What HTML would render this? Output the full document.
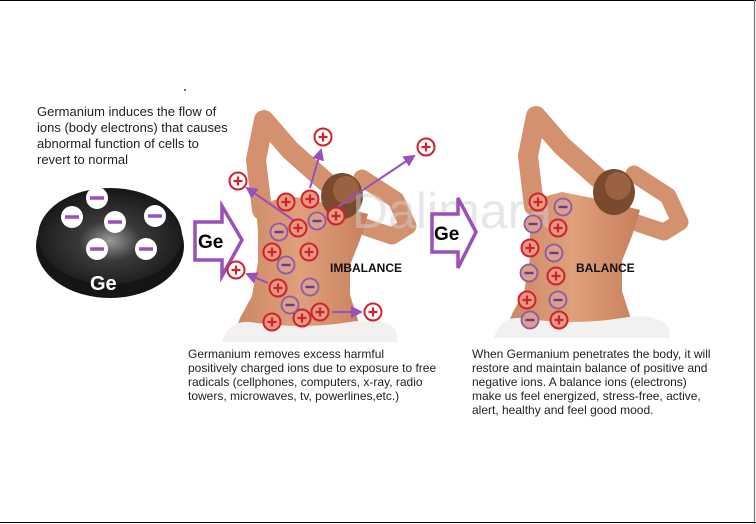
<!DOCTYPE html>
<html><head><meta charset="utf-8"><style>
html,body{margin:0;padding:0;background:#fff;}
svg{display:block;}
text{font-family:"Liberation Sans",Arial,sans-serif;}
</style></head><body>
<svg width="756" height="524" viewBox="0 0 756 524" xmlns="http://www.w3.org/2000/svg">
<defs>
<radialGradient id="puck" cx="0.5" cy="0.55" r="0.6">
<stop offset="0" stop-color="#9a9a9a"/><stop offset="0.35" stop-color="#3a3a3a"/><stop offset="1" stop-color="#111"/>
</radialGradient>
<linearGradient id="skin" x1="0" y1="0" x2="1" y2="0">
<stop offset="0" stop-color="#c98561"/><stop offset="0.5" stop-color="#e0a07c"/><stop offset="1" stop-color="#c77f5c"/>
</linearGradient>
<marker id="ah" markerWidth="6" markerHeight="6" refX="5" refY="3" orient="auto"><path d="M0,0 L6,3 L0,6 z" fill="#9b4fb8"/></marker>
<g id="body">
<g fill="none" stroke="#d39170" stroke-linecap="round" stroke-linejoin="round">
<polyline points="262,210 256,160 264,120 290,150 326,182" stroke-width="20"/>
<polyline points="350,222 392,236 408,226 396,200 362,178" stroke-width="17"/>
</g>
<path d="M232,340 L240,318 L252,296 L258,262 L258,232 L256,205 L290,196 L330,204 L368,214 L360,240 L350,265 L350,295 L358,320 L364,340 Z" fill="url(#skin)"/>
<ellipse cx="342" cy="196" rx="21" ry="23" fill="#7a4a2e"/>
<ellipse cx="346" cy="190" rx="13" ry="14" fill="#9a6240"/>
<path d="M222,342 Q228,320 250,322 Q300,330 350,322 Q382,316 396,330 L398,342 Z" fill="#f3f1f0"/>
</g>
<g id="p"><circle r="8.5" fill="#e39a80" stroke="#d2202c" stroke-width="2"/><path d="M-4.5,0 H4.5 M0,-4.5 V4.5" stroke="#d2202c" stroke-width="2.2"/></g>
<g id="pw"><circle r="8.5" fill="#fff" stroke="#d2202c" stroke-width="2"/><path d="M-4.5,0 H4.5 M0,-4.5 V4.5" stroke="#d2202c" stroke-width="2.2"/></g>
<g id="m"><circle r="8.5" fill="#dba088" stroke="#8a5aa8" stroke-width="1.8"/><path d="M-4.5,0 H4.5" stroke="#6a3a90" stroke-width="2.4"/></g>
<g id="w"><circle r="11" fill="#fff"/><path d="M-7,0 H7" stroke="#9b4fb8" stroke-width="3.5"/></g>
</defs>

<line x1="0" y1="0.5" x2="756" y2="0.5" stroke="#000" stroke-width="1"/>
<line x1="754.5" y1="0" x2="754.5" y2="524" stroke="#777" stroke-width="1.2"/>
<line x1="0" y1="522.5" x2="756" y2="522.5" stroke="#000" stroke-width="1"/>

<rect x="184" y="89" width="2" height="2" fill="#9b4fb8"/>

<text font-size="13" fill="#222"><tspan x="37" y="116">Germanium induces the flow of</tspan><tspan x="37" y="132">ions (body electrons) that causes</tspan><tspan x="37" y="148">abnormal function of cells to</tspan><tspan x="37" y="164">revert to normal</tspan></text>

<ellipse cx="110" cy="246" rx="74" ry="52" fill="#151515"/>
<ellipse cx="110" cy="236" rx="72" ry="48" fill="url(#puck)"/>
<use href="#w" x="97" y="198"/><use href="#w" x="72" y="217"/><use href="#w" x="115" y="222"/>
<use href="#w" x="155" y="216"/><use href="#w" x="97" y="249"/><use href="#w" x="146" y="249"/>
<text x="90" y="290" font-size="20" font-weight="bold" fill="#fff">Ge</text>

<path d="M195,222 L222,222 L222,206 L242,240 L222,276 L222,260 L195,260 Z" fill="#fff" stroke="#9b4fb8" stroke-width="3.5"/>
<text x="198" y="248" font-size="19" font-weight="bold" fill="#000">Ge</text>

<use href="#body"/>
<g transform="translate(272,-4)"><use href="#body"/></g>

<text x="352" y="228" font-size="50" fill="#d0d0d0" opacity="0.5">Dalimara</text>

<path d="M432,214 L458,214 L458,198 L476,232 L458,268 L458,252 L432,252 Z" fill="#fff" stroke="#9b4fb8" stroke-width="3.5"/>
<text x="434" y="240" font-size="19" font-weight="bold" fill="#000">Ge</text>

<g stroke="#9b4fb8" stroke-width="2" marker-end="url(#ah)">
<line x1="310" y1="188" x2="321" y2="150"/>
<line x1="336" y1="208" x2="414" y2="156"/>
<line x1="296" y1="222" x2="247" y2="188"/>
<line x1="268" y1="283" x2="247" y2="274"/>
<line x1="332" y1="312" x2="361" y2="312"/>
</g>
<use href="#pw" x="323" y="137"/><use href="#pw" x="426" y="147"/><use href="#pw" x="238" y="181"/>
<use href="#pw" x="236" y="270"/><use href="#pw" x="373" y="312"/>

<use href="#p" x="286" y="202"/><use href="#p" x="310" y="199"/><use href="#p" x="336" y="216"/>
<use href="#p" x="298" y="228"/><use href="#p" x="272" y="252"/><use href="#p" x="309" y="252"/>
<use href="#p" x="278" y="288"/><use href="#p" x="320" y="312"/><use href="#p" x="302" y="318"/><use href="#p" x="272" y="322"/>
<use href="#m" x="317" y="221"/><use href="#m" x="279" y="232"/><use href="#m" x="286" y="265"/>
<use href="#m" x="310" y="287"/><use href="#m" x="290" y="305"/>

<text x="330" y="272" font-size="12" font-weight="bold" fill="#111">IMBALANCE</text>

<use href="#p" x="538" y="202"/><use href="#m" x="563" y="207"/><use href="#m" x="533" y="224"/>
<use href="#p" x="558" y="228"/><use href="#p" x="530" y="248"/><use href="#m" x="554" y="253"/>
<use href="#m" x="529" y="273"/><use href="#p" x="556" y="276"/><use href="#p" x="527" y="300"/>
<use href="#m" x="558" y="300"/><use href="#m" x="530" y="320"/><use href="#p" x="559" y="320"/>

<text x="576" y="272" font-size="12" font-weight="bold" fill="#111">BALANCE</text>

<text font-size="12" fill="#222"><tspan x="188" y="358">Germanium removes excess harmful</tspan><tspan x="188" y="372">positively charged ions due to exposure to free</tspan><tspan x="188" y="386">radicals (cellphones, computers, x-ray, radio</tspan><tspan x="188" y="400">towers, microwaves, tv, powerlines,etc.)</tspan></text>

<text font-size="12" fill="#222"><tspan x="472" y="358">When Germanium penetrates the body, it will</tspan><tspan x="472" y="372">restore and maintain balance of positive and</tspan><tspan x="472" y="386">negative ions. A balance ions (electrons)</tspan><tspan x="472" y="400">make us feel energized, stress-free, active,</tspan><tspan x="472" y="414">alert, healthy and feel good mood.</tspan></text>
</svg>
</body></html>
